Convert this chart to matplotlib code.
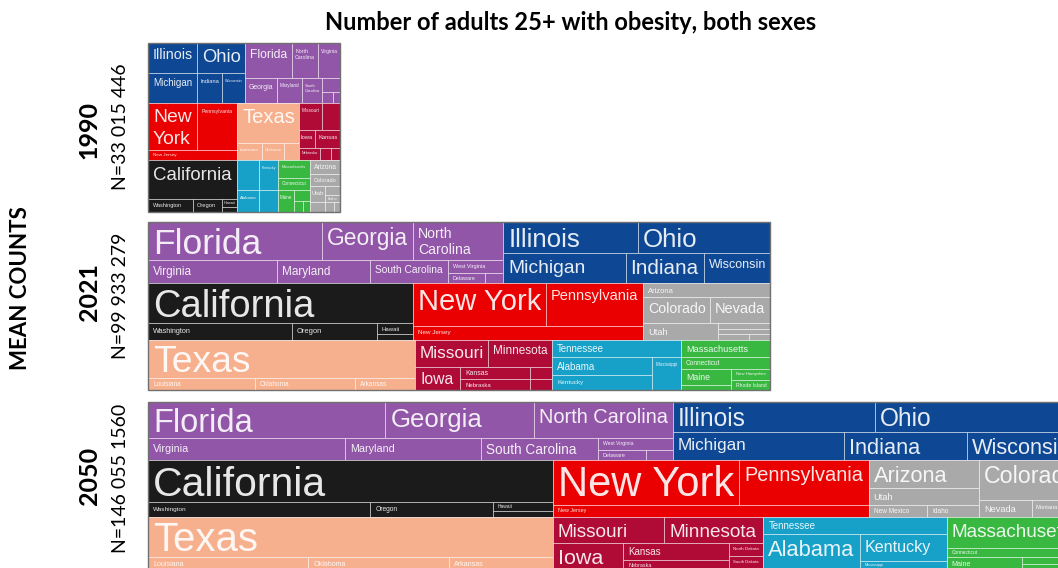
import matplotlib

matplotlib.use("Agg")
import matplotlib.pyplot as plt
from matplotlib.font_manager import FontProperties
from matplotlib.patches import Rectangle
from matplotlib.textpath import TextPath

WIDTH, HEIGHT, DPI = 1058, 568, 100

TITLE = "Number of adults 25+ with obesity, both sexes"
SIDE_TITLE = "MEAN COUNTS"
YEARS = ["1990", "2021", "2050"]
TOTAL_LABELS = ["N=33 015 446", "N=99 933 279", "N=146 055 1560"]

REGION_COLORS = {
    "South Atlantic": "#9256a8",
    "East North Central": "#0e4894",
    "Pacific": "#1b1b1b",
    "Middle Atlantic": "#ea0000",
    "Mountain": "#a9a9a9",
    "West South Central": "#f6b08e",
    "West North Central": "#b00a37",
    "East South Central": "#17a0c8",
    "New England": "#38b840",
}

REGION_STATES = {
    "South Atlantic": ["Florida", "Georgia", "North Carolina", "Virginia", "Maryland",
                       "South Carolina", "West Virginia", "Delaware", "District of Columbia"],
    "East North Central": ["Illinois", "Ohio", "Michigan", "Indiana", "Wisconsin"],
    "Pacific": ["California", "Washington", "Oregon", "Hawaii", "Alaska"],
    "Middle Atlantic": ["New York", "Pennsylvania", "New Jersey"],
    "Mountain": ["Arizona", "Colorado", "Nevada", "Utah", "New Mexico", "Idaho", "Montana", "Wyoming"],
    "West South Central": ["Texas", "Louisiana", "Oklahoma", "Arkansas"],
    "West North Central": ["Missouri", "Minnesota", "Iowa", "Kansas", "Nebraska",
                           "North Dakota", "South Dakota"],
    "East South Central": ["Tennessee", "Alabama", "Kentucky", "Mississippi"],
    "New England": ["Massachusetts", "Connecticut", "Maine", "New Hampshire",
                    "Rhode Island", "Vermont"],
}

# mean counts, thousands of adults
COUNTS_1990 = {
    "Illinois": 1496, "Ohio": 1465, "Michigan": 1496, "Indiana": 763, "Wisconsin": 702,
    "Florida": 1674, "North Carolina": 926, "Virginia": 783, "Georgia": 814, "Maryland": 636,
    "South Carolina": 509, "West Virginia": 256, "Delaware": 122, "District of Columbia": 79,
    "New York": 2343, "Pennsylvania": 1913, "New Jersey": 906,
    "Texas": 2523, "Louisiana": 432, "Oklahoma": 381, "Arkansas": 259,
    "Missouri": 632, "Minnesota": 494, "Iowa": 293, "Kansas": 458, "Nebraska": 256,
    "South Dakota": 132, "North Dakota": 112,
    "California": 3532, "Washington": 595, "Oregon": 384, "Hawaii": 122, "Alaska": 76,
    "Tennessee": 672, "Kentucky": 580, "Alabama": 492, "Mississippi": 425,
    "Massachusetts": 586, "Connecticut": 391, "Maine": 358, "New Hampshire": 179,
    "Rhode Island": 102, "Vermont": 77,
    "Arizona": 427, "Colorado": 366, "Utah": 260, "Nevada": 150, "New Mexico": 140,
    "Idaho": 100, "Montana": 80, "Wyoming": 64,
}
COUNTS_2021 = {
    "Florida": 6323, "Georgia": 3307, "North Carolina": 3271, "Virginia": 2837, "Maryland": 2046,
    "South Carolina": 1716, "West Virginia": 684, "Delaware": 354, "District of Columbia": 172,
    "Illinois": 4002, "Ohio": 3913, "Michigan": 3500, "Indiana": 2238, "Wisconsin": 1893,
    "California": 10137, "Washington": 2341, "Oregon": 1382, "Hawaii": 379, "Alaska": 207,
    "New York": 5469, "Pennsylvania": 3989, "New Jersey": 3079,
    "Arizona": 1700, "Colorado": 1666, "Nevada": 1492, "Utah": 1219, "New Mexico": 300,
    "Idaho": 260, "Montana": 170, "Wyoming": 115,
    "Texas": 9703, "Louisiana": 1228, "Oklahoma": 1148, "Arkansas": 689,
    "Missouri": 1885, "Minnesota": 1652, "Iowa": 990, "Kansas": 803, "Nebraska": 736,
    "North Dakota": 249, "South Dakota": 235,
    "Tennessee": 2097, "Alabama": 1721, "Kentucky": 1434, "Mississippi": 915,
    "Massachusetts": 1447, "Connecticut": 1021, "Maine": 765, "Vermont": 239,
    "New Hampshire": 410, "Rhode Island": 373,
}
COUNTS_2050 = {
    "Florida": 7943, "Georgia": 4960, "North Carolina": 4659, "Virginia": 4035, "Maryland": 2765,
    "South Carolina": 2396, "West Virginia": 838, "Delaware": 447, "District of Columbia": 251,
    "Illinois": 5614, "Ohio": 5782, "Michigan": 4458, "Indiana": 3180, "Wisconsin": 2998,
    "California": 15797, "Washington": 3100, "Oregon": 1704, "Hawaii": 503, "Alaska": 335,
    "New York": 7792, "Pennsylvania": 5404, "New Jersey": 3519,
    "Arizona": 2867, "Utah": 1741, "New Mexico": 652, "Idaho": 577,
    "Colorado": 3836, "Nevada": 838, "Montana": 466, "Wyoming": 327,
    "Texas": 15045, "Louisiana": 1936, "Oklahoma": 1694, "Arkansas": 1259,
    "Missouri": 2687, "Minnesota": 2396, "Iowa": 1760, "Kansas": 1678, "Nebraska": 987,
    "North Dakota": 411, "South Dakota": 443,
    "Tennessee": 2896, "Alabama": 3218, "Kentucky": 2187, "Mississippi": 729,
    "Massachusetts": 3896, "Connecticut": 1131, "Maine": 908, "New Hampshire": 391,
    "Rhode Island": 205, "Vermont": 130,
}
COUNTS = [COUNTS_1990, COUNTS_2021, COUNTS_2050]

# tile nesting: bands of regions, then rows / columns of states (orientation alternates)
BANDS_1990 = [
    ["East North Central", "South Atlantic"],
    ["Middle Atlantic", "West South Central", "West North Central"],
    ["Pacific", "East South Central", "New England", "Mountain"],
]
BANDS_LATER = [
    ["South Atlantic", "East North Central"],
    ["Pacific", "Middle Atlantic", "Mountain"],
    ["West South Central", "West North Central", "East South Central", "New England"],
]
SOUTH_ATLANTIC_ROWS = [["Florida", "Georgia", "North Carolina"],
                       ["Virginia", "Maryland", "South Carolina",
                        ["West Virginia", ["Delaware", "District of Columbia"]]]]
COMMON_TREES = {
    "East North Central": [["Illinois", "Ohio"], ["Michigan", "Indiana", "Wisconsin"]],
    "Pacific": ["California", ["Washington", "Oregon", ["Hawaii", "Alaska"]]],
    "Middle Atlantic": [["New York", "Pennsylvania"], "New Jersey"],
    "West South Central": ["Texas", ["Louisiana", "Oklahoma", "Arkansas"]],
}
TREES_1990 = {
    **COMMON_TREES,
    "South Atlantic": [["Florida", "North Carolina", "Virginia"],
                       ["Georgia", "Maryland", "South Carolina",
                        ["West Virginia", ["Delaware", "District of Columbia"]]]],
    "West North Central": [["Missouri", "Minnesota"], ["Iowa", "Kansas"],
                           ["Nebraska", "South Dakota", "North Dakota"]],
    "East South Central": [["Tennessee", "Kentucky"], ["Alabama", "Mississippi"]],
    "New England": ["Massachusetts", "Connecticut",
                    ["Maine", ["New Hampshire", ["Rhode Island", "Vermont"]]]],
    "Mountain": ["Arizona", "Colorado",
                 [["Utah", "Nevada"], ["New Mexico", "Idaho", ["Montana", "Wyoming"]]]],
}
TREES_2021 = {
    **COMMON_TREES,
    "South Atlantic": SOUTH_ATLANTIC_ROWS,
    "Mountain": ["Arizona", ["Colorado", "Nevada"],
                 ["Utah", ["New Mexico", "Idaho", ["Montana", "Wyoming"]]]],
    "West North Central": [["Missouri", "Minnesota"],
                           ["Iowa", ["Kansas", "Nebraska"], ["North Dakota", "South Dakota"]]],
    "East South Central": ["Tennessee", [["Alabama", "Kentucky"], "Mississippi"]],
    "New England": ["Massachusetts", "Connecticut",
                    [["Maine", "Vermont"], ["New Hampshire", "Rhode Island"]]],
}
TREES_2050 = {
    **COMMON_TREES,
    "South Atlantic": SOUTH_ATLANTIC_ROWS,
    "Mountain": [[["Arizona", "Utah", ["New Mexico", "Idaho"]],
                  ["Colorado", ["Nevada", "Montana", "Wyoming"]]]],
    "West North Central": [["Missouri", "Minnesota"],
                           ["Iowa", ["Kansas", "Nebraska"], ["North Dakota", "South Dakota"]]],
    "East South Central": ["Tennessee", ["Alabama", ["Kentucky", "Mississippi"]]],
    "New England": ["Massachusetts", "Connecticut",
                    ["Maine", ["New Hampshire", ["Rhode Island", "Vermont"]]]],
}
LAYOUTS = [(BANDS_1990, TREES_1990), (BANDS_LATER, TREES_2021), (BANDS_LATER, TREES_2050)]

# panel boxes in pixels: left, top, width, height (2050 runs past the right edge)
PANELS = [(148, 43, 192, 169), (148, 222, 622, 168), (148, 402, 934, 168)]
YEAR_Y = [130, 292, 476]
TOTAL_Y = [127, 296, 478]

LABEL_FONT = FontProperties(family="Liberation Sans")
SIDE_FONT = ["Lato", "DejaVu Sans"]
LINE_STEP = 1.12
MIN_LABEL_PX = 3.5
EDGE = (1, 1, 1, 0.45)

REGION_OF = {state: region for region, states in REGION_STATES.items() for state in states}


def node_total(node, values):
    if isinstance(node, str):
        return values[node]
    return sum(node_total(child, values) for child in node)


def split(node, x, y, w, h, values, vertical, out):
    """Slice-and-dice: lists stack vertically / horizontally in turn."""
    if isinstance(node, str):
        out.append((node, x, y, w, h))
        return
    total = node_total(node, values)
    offset = 0.0
    for child in node:
        frac = node_total(child, values) / total
        if vertical:
            split(child, x, y + offset * h, w, frac * h, values, False, out)
        else:
            split(child, x + offset * w, y, frac * w, h, values, True, out)
        offset += frac


def ink(text):
    ext = TextPath((0, 0), text, size=100, prop=LABEL_FONT).get_extents()
    return ext.x1 / 100, ext.y1 / 100, max(-ext.y0, 0) / 100


def fit_label(name, w, h):
    """Grow the label to fill its tile (one line, or two when that is larger)."""
    pad_x = min(5.0, 0.12 * w)
    pad_y = min(6.0, 0.3 * h)
    words = name.split()
    options = [[name]] + [[" ".join(words[:k]), " ".join(words[k:])] for k in range(1, len(words))]
    best = None
    for lines in options:
        metrics = [ink(line) for line in lines]
        width = max(m[0] for m in metrics)
        height = metrics[0][1] + LINE_STEP * (len(lines) - 1) + metrics[-1][2]
        size = min((w - 2 * pad_x) / width, (h - 2 * pad_y) / height)
        if best is None or size > best[0]:
            best = (size, lines, metrics[0][1], pad_x, pad_y)
    return best


fig = plt.figure(figsize=(WIDTH / DPI, HEIGHT / DPI), dpi=DPI)
ax = fig.add_axes([0, 0, 1, 1])
ax.set_xlim(0, WIDTH)
ax.set_ylim(HEIGHT, 0)
ax.axis("off")

for (bands, trees), values, (px, py, pw, ph) in zip(LAYOUTS, COUNTS, PANELS):
    tree = [[trees[region] for region in band] for band in bands]
    tiles = []
    split(tree, px, py, pw, ph, values, True, tiles)
    for name, x, y, w, h in tiles:
        ax.add_patch(Rectangle((x, y), w, h, facecolor=REGION_COLORS[REGION_OF[name]],
                               edgecolor=EDGE, linewidth=0.7))
        size, lines, top, pad_x, pad_y = fit_label(name, w, h)
        if size < MIN_LABEL_PX:
            continue
        for i, line in enumerate(lines):
            ax.text(x + pad_x, y + pad_y + top * size + i * LINE_STEP * size, line,
                    fontproperties=LABEL_FONT, fontsize=size * 72 / DPI,
                    color="white", alpha=0.9, ha="left", va="baseline")
    ax.add_patch(Rectangle((px, py), pw, ph, fill=False, edgecolor="#707070", linewidth=1.0))

ax.text(571, 22, TITLE, ha="center", va="center", fontsize=17, fontweight="bold",
        family=SIDE_FONT, color="black")
ax.text(21, 288, SIDE_TITLE, rotation=90, ha="center", va="center", fontsize=16,
        fontweight="bold", family=SIDE_FONT)
for year, total, yy, ty in zip(YEARS, TOTAL_LABELS, YEAR_Y, TOTAL_Y):
    ax.text(89, yy, year, rotation=90, ha="center", va="center", fontsize=18,
            fontweight="bold", family=SIDE_FONT)
    ax.text(121, ty, total, rotation=90, ha="center", va="center", fontsize=14,
            family=SIDE_FONT)

fig.savefig("out.png", dpi=DPI)
